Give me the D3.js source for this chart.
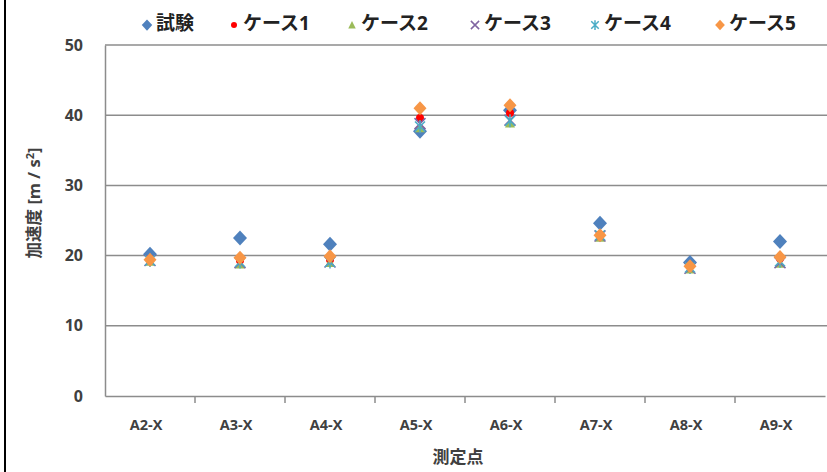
<!DOCTYPE html>
<html><head><meta charset="utf-8">
<script src="https://cdn.jsdelivr.net/npm/d3@7"></script>
<style>
body{margin:0;background:#fff;}
svg{display:block;}
text{font-family:"Open Sans","Noto Sans CJK JP",sans-serif;}
</style></head>
<body><svg id="c" width="827" height="472"></svg>
<script>
const categories = ["A2-X","A3-X","A4-X","A5-X","A6-X","A7-X","A8-X","A9-X"];
const seriesNames = ["試験","ケース1","ケース2","ケース3","ケース4","ケース5"];
const shiken = [20.2, 22.5, 21.6, 37.7, 40.7, 24.6, 19.0, 22.0];
const case1  = [19.5, 19.3, 19.4, 39.6, 40.3, 23.0, 18.5, 19.6];
const case2  = [19.2, 18.8, 19.0, 38.2, 38.9, 22.6, 18.1, 18.9];
const case3  = [19.3, 19.0, 19.1, 38.8, 39.3, 22.8, 18.2, 19.0];
const case4  = [19.3, 19.1, 19.1, 38.4, 39.2, 22.9, 18.3, 19.2];
const case5  = [19.4, 19.7, 19.9, 41.0, 41.4, 22.9, 18.5, 19.8];
const yTicks = [0, 10, 20, 30, 40, 50];
const colors = ["#4F81BD","#FF0000","#9BBB59","#8064A2","#4BACC6","#F79646"];

const allSeries = [shiken, case1, case2, case3, case4, case5];
const svg = d3.select("#c");
const L = 105, R = 825, T = 45, B = 396;
const x = d3.scaleBand().domain(categories).range([L, R]).padding(0);
const y = d3.scaleLinear().domain([0, 50]).range([B, T]);

// left black border
svg.append("line").attr("x1",5).attr("x2",5).attr("y1",0).attr("y2",472)
  .attr("stroke","#000").attr("stroke-width",2);

// gridlines
svg.append("g").selectAll("line").data(yTicks.filter(d=>d>0)).join("line")
  .attr("x1",L).attr("x2",827).attr("y1",d=>y(d)).attr("y2",d=>y(d))
  .attr("stroke","#8c8c8c").attr("stroke-width",1.5);

// y axis
const ya = svg.append("g").attr("transform",`translate(${L},0)`)
  .call(d3.axisLeft(y).tickValues(yTicks).tickSize(0).tickPadding(22));
ya.select(".domain").attr("stroke","#8c8c8c").attr("stroke-width",1.5);
ya.selectAll("text").attr("font-size",16).attr("font-weight",700).attr("fill","#404040")
  .attr("font-family","'Open Sans',sans-serif");

// x axis
const xa = svg.append("g").attr("transform",`translate(0,${B})`)
  .call(d3.axisBottom(x).tickSize(0).tickPadding(24));
xa.select(".domain").attr("stroke","#8c8c8c").attr("stroke-width",1.5);
xa.selectAll("text").attr("font-size",14.5).attr("font-weight",700).attr("fill","#404040")
  .attr("font-family","'Open Sans',sans-serif").attr("dx",-4);
// category boundary ticks
svg.append("g").selectAll("line").data(categories.slice(1)).join("line")
  .attr("x1",d=>x(d)).attr("x2",d=>x(d)).attr("y1",B).attr("y2",B+7)
  .attr("stroke","#8c8c8c").attr("stroke-width",1.5);

// axis titles
svg.append("text").attr("x",458).attr("y",463).attr("text-anchor","middle")
  .attr("font-size",17).attr("font-weight",700).attr("fill","#404040")
  .attr("font-family","'Noto Sans CJK JP',sans-serif").text("測定点");
const yt = svg.append("text").attr("transform","translate(40,203) rotate(-90)")
  .attr("text-anchor","middle").attr("font-size",16.5).attr("font-weight",700).attr("fill","#404040")
  .attr("font-family","'Noto Sans CJK JP',sans-serif");
yt.append("tspan").text("加速度 [m / s");
yt.append("tspan").attr("dy",-6).attr("font-size",11).text("2");
yt.append("tspan").attr("dy",6).text("]");

// markers
function marker(g, i, cx, cy, scale) {
  const c = colors[i];
  const s = scale || 1;
  if (i === 0) {
    g.append("path").attr("d",`M${cx},${cy-7.5*s}L${cx+7*s},${cy}L${cx},${cy+7.5*s}L${cx-7*s},${cy}Z`).attr("fill",c);
  } else if (i === 1) {
    g.append("circle").attr("cx",cx).attr("cy",cy).attr("r",4*s).attr("fill",c);
  } else if (i === 2) {
    g.append("path").attr("d",`M${cx},${cy-5.5*s}L${cx+5*s},${cy+4.5*s}L${cx-5*s},${cy+4.5*s}Z`).attr("fill",c);
  } else if (i === 3) {
    const r = 5.5*s;
    g.append("path").attr("d",`M${cx-r},${cy-r}L${cx+r},${cy+r}M${cx-r},${cy+r}L${cx+r},${cy-r}`)
      .attr("stroke",c).attr("stroke-width",1.5).attr("fill","none");
  } else if (i === 4) {
    const r = 5*s;
    g.append("path").attr("d",`M${cx-r},${cy-r}L${cx+r},${cy+r}M${cx-r},${cy+r}L${cx+r},${cy-r}M${cx},${cy-r*1.3}L${cx},${cy+r*1.3}`)
      .attr("stroke",c).attr("stroke-width",1.5).attr("fill","none");
  } else {
    g.append("path").attr("d",`M${cx},${cy-7*s}L${cx+6.5*s},${cy}L${cx},${cy+7*s}L${cx-6.5*s},${cy}Z`).attr("fill",c);
  }
}
const pg = svg.append("g");
allSeries.forEach((vals, i) => {
  const g = pg.append("g");
  vals.forEach((v, j) => marker(g, i, x(categories[j]) + x.bandwidth()/2, y(v), 1));
});

// legend
const legX = [147, 234, 352, 475, 595, 720];
const lg = svg.append("g");
seriesNames.forEach((n, i) => {
  const g = lg.append("g");
  marker(g, i, legX[i], 25, 0.75);
  g.append("text").attr("x", legX[i] + 9).attr("y", 30).attr("font-size",19).attr("font-weight",700)
    .attr("fill","#222").attr("font-family","'Noto Sans CJK JP',sans-serif").text(n);
});
</script></body></html>
